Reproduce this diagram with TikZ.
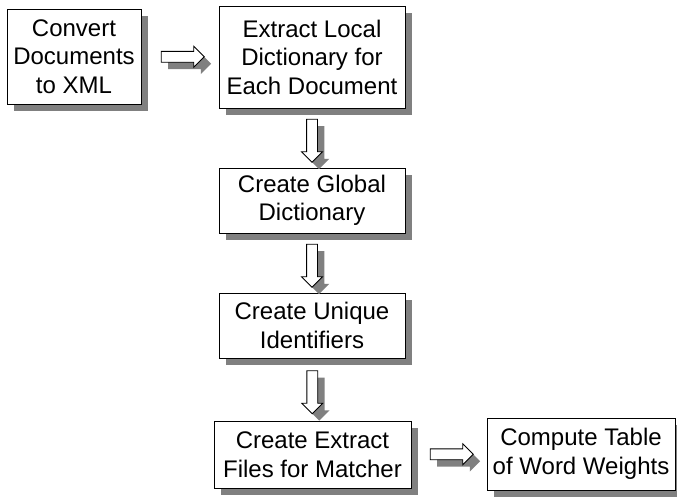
\documentclass[tikz,border=0pt]{standalone}
\usepackage{fontspec}
\setmainfont{Liberation Sans}
\usetikzlibrary{shapes.arrows,shadows,calc}
\tikzset{
  stepbox/.style={draw=black, line width=0.8pt, fill=white, align=center,
    inner sep=0pt, font=\fontsize{24}{28.5}\selectfont,
    drop shadow={shadow xshift=7pt, shadow yshift=-7pt, fill=black!50, opacity=1}},
  blockarr/.style={single arrow, draw=black, line width=0.8pt, fill=white,
    inner sep=5pt, single arrow head extend=5pt, single arrow tip angle=90,
    minimum height=43pt,
    drop shadow={shadow xshift=7pt, shadow yshift=-7pt, fill=black!50, opacity=1}},
  rightarr/.style={blockarr},
  downarr/.style={blockarr, shape border rotate=270}
}
\begin{document}
\begin{tikzpicture}[x=1pt,y=-1pt]
\useasboundingbox (0,0) rectangle (677,499);
\node[stepbox, minimum width=134pt, minimum height=95pt] (b1) at (74,56.5) {Convert\\Documents\\to XML};
\node[stepbox, minimum width=186pt, minimum height=102pt] (b2) at (312,57) {Extract Local\\Dictionary for\\Each Document};
\node[stepbox, minimum width=186pt, minimum height=65pt] (b3) at (312,200.5) {Create Global\\Dictionary};
\node[stepbox, minimum width=186pt, minimum height=65pt] (b4) at (312,325.5) {Create Unique\\Identifiers};
\node[stepbox, minimum width=197pt, minimum height=67pt] (b5) at (312.5,454.5) {Create Extract\\Files for Matcher};
\node[stepbox, minimum width=188pt, minimum height=72pt] (b6) at (581,454) {Compute Table\\of Word Weights};
\node[rightarr] (a1) at ($(b1.east)!0.5!(b2.west)$) {};
\node[downarr] (a2) at ($(b2.south)!0.5!(b3.north)$) {};
\node[downarr] (a3) at ($(b3.south)!0.5!(b4.north)$) {};
\node[downarr] (a4) at ($(b4.south)!0.5!(b5.north)$) {};
\node[rightarr] (a5) at ($(b5.east)!0.5!(b6.west)$) {};
\end{tikzpicture}
\end{document}
